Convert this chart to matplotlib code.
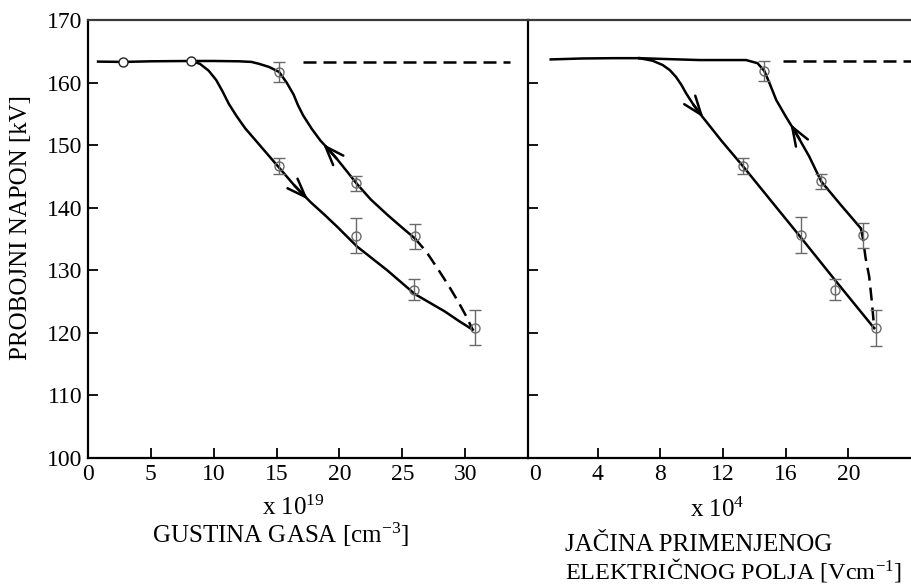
import matplotlib
matplotlib.use("Agg")
import matplotlib.pyplot as plt

plt.rcParams['font.family'] = ['Liberation Serif', 'DejaVu Serif']
plt.rcParams['mathtext.fontset'] = 'custom'
plt.rcParams['mathtext.rm'] = 'Liberation Serif'
plt.rcParams['mathtext.it'] = 'Liberation Serif:italic'

# ---------------- data: left panel (gas density, x 10^19 cm^-3) ----------------
gas_pts_x = [15.2, 15.2, 21.35, 21.35, 26.0, 25.9, 30.8]
gas_pts_y = [161.7, 146.7, 143.9, 135.5, 135.4, 126.9, 120.8]
gas_pts_err = [1.6, 1.3, 1.2, 2.8, 2.0, 1.7, 2.8]
gas_free_x = [2.8, 8.2]
gas_free_y = [163.3, 163.5]

gas_flat_x = [0.8, 2.8, 5.0, 8.2]
gas_flat_y = [163.35, 163.3, 163.4, 163.45]

gas_down_x = [8.2, 8.9, 9.6, 10.2, 10.7, 11.2, 11.8, 12.5, 13.4, 14.3, 15.2, 16.4,
              17.7, 18.8, 19.8, 20.6, 21.4, 22.6, 23.8, 24.9, 26.0, 27.2, 28.4, 29.5, 30.6]
gas_down_y = [163.45, 163.0, 161.9, 160.4, 158.6, 156.6, 154.7, 152.7, 150.6, 148.5, 146.4, 143.6,
              140.9, 138.9, 137.0, 135.4, 133.8, 131.9, 130.0, 128.1, 126.2, 124.8, 123.4, 121.9, 120.5]

gas_up_x = [8.2, 10.0, 12.0, 13.0, 13.6, 14.4, 15.2, 15.8, 16.35, 16.7, 17.1, 17.8, 18.5,
            19.2, 19.8, 20.6, 21.35, 22.5, 23.85, 25.0, 26.0]
gas_up_y = [163.45, 163.45, 163.4, 163.3, 163.0, 162.5, 161.7, 160.0, 158.1, 156.4, 154.8, 152.6, 150.7,
            149.2, 147.8, 145.8, 143.9, 141.3, 138.8, 136.8, 135.1]

gas_jump_x = [26.0, 26.9, 27.9, 28.7, 29.5, 30.1, 30.6]
gas_jump_y = [135.1, 133.0, 130.0, 127.5, 124.8, 122.6, 120.5]

gas_ref_x = [17.1, 33.6]
gas_ref_y = [163.35, 163.35]

gas_arrow_down = ((16.4, 143.6), (17.5, 141.3))
gas_arrow_up = ((19.8, 147.8), (18.7, 150.2))

# ---------------- data: right panel (applied field, x 10^4 V/cm) ----------------
fld_pts_x = [14.64, 13.25, 18.27, 16.95, 20.93, 19.16, 21.76]
fld_pts_y = [161.85, 146.7, 144.2, 135.65, 135.6, 126.9, 120.75]
fld_pts_err = [1.65, 1.25, 1.2, 2.85, 2.0, 1.7, 2.85]

fld_flat_x = [1.0, 3.0, 5.0, 6.66]
fld_flat_y = [163.7, 163.85, 163.9, 163.9]

fld_down_x = [6.66, 7.5, 8.15, 8.6, 9.0, 9.35, 9.64, 10.1, 10.6, 11.9, 13.25, 15.1, 16.95, 19.16, 21.65]
fld_down_y = [163.9, 163.5, 162.8, 162.0, 160.9, 159.6, 158.3, 156.5, 154.8, 150.7, 146.7, 141.0, 135.3, 128.4, 120.75]

fld_up_x = [6.66, 8.5, 10.5, 12.5, 13.47, 14.2, 14.64, 15.0, 15.4, 16.0, 16.66, 17.5, 18.27, 19.5, 20.8]
fld_up_y = [163.9, 163.75, 163.6, 163.6, 163.6, 163.1, 161.85, 159.7, 157.2, 154.6, 151.9, 148.2, 144.2, 140.5, 136.7]

fld_jump_x = [20.8, 20.93, 21.1, 21.33, 21.5, 21.65]
fld_jump_y = [136.7, 135.1, 132.0, 129.0, 125.0, 120.75]

fld_ref_x = [15.8, 24.5]
fld_ref_y = [163.5, 163.5]

fld_arrow_down = ((10.1, 156.5), (10.75, 154.4))
fld_arrow_up = ((16.9, 150.9), (16.3, 153.4))

y_ticks = [100, 110, 120, 130, 140, 150, 160, 170]
gas_ticks = [0, 5, 10, 15, 20, 25, 30]
fld_ticks = [0, 4, 8, 12, 16, 20]

# ---------------- figure ----------------
W, H = 911, 584
fig = plt.figure(figsize=(W / 100, H / 100), dpi=100)

def fx(px):
    return px / W

def fy(py):
    return 1 - py / H

axL = fig.add_axes([fx(88), fy(458), fx(528) - fx(88), fy(20) - fy(458)])
axR = fig.add_axes([fx(528), fy(458), 1.0 - fx(528), fy(20) - fy(458)])

LW = 1.8
DASH = (5.2, 2.8)
ERRC = '#6a6a6a'

def style(ax):
    for s in ax.spines.values():
        s.set_linewidth(1.6)
        s.set_color('black')
    ax.spines['top'].set_color('#3a3a3a')
    ax.tick_params(direction='in', length=7, width=1.3, labelsize=17, pad=4,
                   top=False, right=False)
    ax.set_ylim(100, 170)
    ax.set_yticks(y_ticks)

def arrow(ax, seg):
    tail, tip = seg
    ax.annotate('', xy=tip, xytext=tail,
                arrowprops=dict(arrowstyle='->,head_length=1.35,head_width=0.5',
                                mutation_scale=10, lw=LW, color='black',
                                shrinkA=0, shrinkB=0))

# left panel
style(axL)
axL.set_xlim(0, 35)
axL.set_xticks(gas_ticks)
axL.spines['right'].set_visible(False)
axL.plot(gas_flat_x, gas_flat_y, color='black', lw=LW)
axL.plot(gas_down_x, gas_down_y, color='black', lw=LW)
axL.plot(gas_up_x, gas_up_y, color='black', lw=LW)
axL.plot(gas_jump_x, gas_jump_y, color='black', lw=LW, dashes=DASH)
axL.plot(gas_ref_x, gas_ref_y, color='black', lw=LW, dashes=DASH)
axL.errorbar(gas_pts_x, gas_pts_y, yerr=gas_pts_err, fmt='o', ms=6.5,
             mfc='none', mec=ERRC, mew=1.0, ecolor=ERRC, elinewidth=1.0,
             capsize=4, capthick=1.0, zorder=3)
axL.plot(gas_free_x, gas_free_y, 'o', ms=6.5, mfc='white', mec='#222222', mew=1.0, zorder=4)
arrow(axL, gas_arrow_down)
arrow(axL, gas_arrow_up)

# right panel
style(axR)
axR.set_xlim(-0.45, 24.0)
axR.set_xticks(fld_ticks)
axR.xaxis.get_major_ticks()[0].tick1line.set_visible(False)
axR.set_yticklabels([])
axR.spines['right'].set_visible(False)
axR.plot(fld_flat_x, fld_flat_y, color='black', lw=LW)
axR.plot(fld_down_x, fld_down_y, color='black', lw=LW)
axR.plot(fld_up_x, fld_up_y, color='black', lw=LW)
axR.plot(fld_jump_x, fld_jump_y, color='black', lw=LW, dashes=DASH)
axR.plot(fld_ref_x, fld_ref_y, color='black', lw=LW, dashes=DASH, clip_on=True)
axR.errorbar(fld_pts_x, fld_pts_y, yerr=fld_pts_err, fmt='o', ms=6.5,
             mfc='none', mec=ERRC, mew=1.0, ecolor=ERRC, elinewidth=1.0,
             capsize=4, capthick=1.0, zorder=3)
arrow(axR, fld_arrow_down)
arrow(axR, fld_arrow_up)

# texts
fig.text(fx(21), fy(228), 'PROBOJNI NAPON [kV]', rotation=90, ha='center', va='center', fontsize=18)
fig.text(fx(293), fy(515), r'x 10$^{19}$', ha='center', va='baseline', fontsize=18)
fig.text(fx(281), fy(543), r'GUSTINA GASA [cm$^{-3}$]', ha='center', va='baseline', fontsize=18)
fig.text(fx(717), fy(517), r'x 10$^{4}$', ha='center', va='baseline', fontsize=18)
fig.text(fx(565), fy(551), 'JAČINA PRIMENJENOG', ha='left', va='baseline', fontsize=18)
fig.text(fx(565), fy(578), r'ELEKTRIČNOG POLJA [Vcm$^{-1}$]', ha='left', va='baseline', fontsize=17.5)

fig.savefig('out.png', dpi=100)
